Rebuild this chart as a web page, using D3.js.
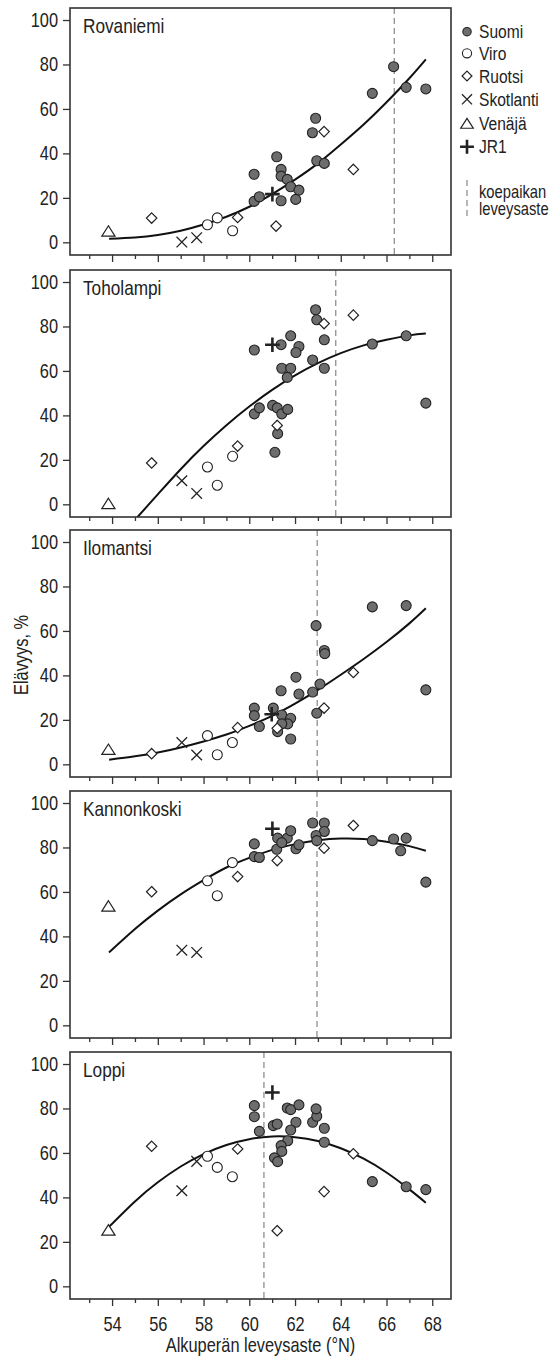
<!DOCTYPE html>
<html><head><meta charset="utf-8">
<script src="https://cdn.jsdelivr.net/npm/d3@7"></script>
<style>
html,body{margin:0;padding:0;background:#fff;}
svg{display:block;}
text{font-family:"Liberation Sans Narrow","Arial Narrow","Liberation Sans",Arial,sans-serif;fill:#222;}
</style>
</head><body>
<svg id="chart" width="556" height="1358"></svg>
<script>
// ---------------- data ----------------
const sites = ["Rovaniemi", "Toholampi", "Ilomantsi", "Kannonkoski", "Loppi"];
const siteLatitude = [66.34, 63.78, 62.97, 62.96, 60.64];
const groups = ["Suomi", "Viro", "Ruotsi", "Skotlanti", "Venäjä", "JR1"];
const yTicks = [0, 20, 40, 60, 80, 100];
const xMajorTicks = [54, 56, 58, 60, 62, 64, 66, 68];
const xMinorTicks = [53, 55, 57, 59, 61, 63, 65, 67];

// points: [group, latitude, survival %]
const rovaniemiPoints = [
  ["Suomi",60.21,30.6],["Suomi",60.21,18.4],["Suomi",60.44,20.5],["Suomi",61.20,38.5],["Suomi",61.39,32.8],
  ["Suomi",61.39,29.8],["Suomi",61.66,28.3],["Suomi",61.81,25.0],["Suomi",62.17,23.5],["Suomi",62.03,19.3],
  ["Suomi",61.39,18.7],["Suomi",62.90,55.8],["Suomi",62.76,49.3],["Suomi",62.95,36.7],["Suomi",63.28,35.5],
  ["Suomi",65.38,67.0],["Suomi",66.31,79.0],["Suomi",66.86,69.7],["Suomi",67.72,69.0],
  ["Viro",58.17,7.9],["Viro",58.60,11.0],["Viro",59.27,5.2],
  ["Ruotsi",55.73,10.9],["Ruotsi",59.49,11.2],["Ruotsi",61.17,7.3],["Ruotsi",63.27,49.8],["Ruotsi",64.55,32.8],
  ["Skotlanti",57.05,0.1],["Skotlanti",57.70,2.1],
  ["Venäjä",53.84,5.1],
  ["JR1",61.01,21.7]
];
const toholampiPoints = [
  ["Suomi",60.22,69.4],["Suomi",60.22,40.7],["Suomi",60.44,43.4],["Suomi",61.02,44.5],["Suomi",61.22,43.4],
  ["Suomi",61.42,40.7],["Suomi",61.68,42.7],["Suomi",61.24,31.8],["Suomi",61.12,23.4],["Suomi",61.39,71.8],
  ["Suomi",61.81,75.8],["Suomi",62.17,71.0],["Suomi",62.04,68.3],["Suomi",61.42,61.2],["Suomi",61.81,61.2],
  ["Suomi",61.66,57.1],["Suomi",62.77,64.9],["Suomi",63.28,61.2],["Suomi",63.28,74.0],["Suomi",62.90,87.5],
  ["Suomi",62.95,83.0],["Suomi",65.38,72.1],["Suomi",66.86,75.8],["Suomi",67.72,45.5],
  ["Viro",58.17,16.8],["Viro",58.60,8.6],["Viro",59.27,21.6],
  ["Ruotsi",55.73,18.6],["Ruotsi",59.49,26.2],["Ruotsi",61.22,35.5],["Ruotsi",63.27,81.3],["Ruotsi",64.55,85.1],
  ["Skotlanti",57.05,10.6],["Skotlanti",57.70,4.9],
  ["Venäjä",53.84,0.4],
  ["JR1",61.01,71.8]
];
const ilomantsiPoints = [
  ["Suomi",65.38,70.8],["Suomi",66.86,71.4],["Suomi",67.72,33.5],["Suomi",62.92,62.4],["Suomi",63.28,51.2],
  ["Suomi",63.30,49.8],["Suomi",62.04,39.2],["Suomi",61.39,33.1],["Suomi",62.17,31.6],["Suomi",62.77,32.5],
  ["Suomi",63.09,36.1],["Suomi",62.95,23.0],["Suomi",60.22,25.3],["Suomi",60.22,21.9],["Suomi",60.44,17.0],
  ["Suomi",61.05,25.3],["Suomi",61.42,22.2],["Suomi",61.81,20.7],["Suomi",61.68,18.2],["Suomi",61.42,18.2],
  ["Suomi",61.24,14.7],["Suomi",61.81,11.4],
  ["Viro",58.17,12.9],["Viro",58.60,4.3],["Viro",59.26,9.8],
  ["Ruotsi",55.73,4.8],["Ruotsi",59.49,16.5],["Ruotsi",61.22,16.2],["Ruotsi",63.27,25.3],["Ruotsi",64.55,41.3],
  ["Skotlanti",57.05,9.8],["Skotlanti",57.70,4.2],
  ["Venäjä",53.84,6.8],
  ["JR1",60.98,22.5]
];
const kannonkoskiPoints = [
  ["Suomi",60.22,81.6],["Suomi",60.22,75.9],["Suomi",60.44,75.5],["Suomi",61.20,79.2],["Suomi",61.24,84.2],
  ["Suomi",61.66,84.2],["Suomi",61.81,87.5],["Suomi",61.42,82.2],["Suomi",62.04,79.4],["Suomi",62.17,81.2],
  ["Suomi",62.77,91.0],["Suomi",63.28,91.0],["Suomi",63.28,87.2],["Suomi",62.92,85.4],["Suomi",62.95,83.1],
  ["Suomi",65.38,83.1],["Suomi",66.31,83.8],["Suomi",66.86,84.2],["Suomi",66.62,78.5],["Suomi",67.72,64.4],
  ["Viro",58.17,65.0],["Viro",58.60,58.3],["Viro",59.26,73.2],
  ["Ruotsi",55.73,60.1],["Ruotsi",59.49,66.9],["Ruotsi",61.22,74.1],["Ruotsi",63.27,79.7],["Ruotsi",64.55,89.9],
  ["Skotlanti",57.05,33.8],["Skotlanti",57.70,32.8],
  ["Venäjä",53.84,53.7],
  ["JR1",61.01,88.4]
];
const loppiPoints = [
  ["Suomi",60.22,81.3],["Suomi",60.22,76.3],["Suomi",60.44,69.7],["Suomi",61.05,72.3],["Suomi",61.22,73.0],
  ["Suomi",61.66,80.2],["Suomi",61.81,79.5],["Suomi",62.17,81.6],["Suomi",62.04,73.8],["Suomi",61.81,70.3],
  ["Suomi",61.68,65.5],["Suomi",61.39,63.3],["Suomi",61.42,60.7],["Suomi",61.10,57.8],["Suomi",61.24,56.1],
  ["Suomi",62.77,73.8],["Suomi",62.95,76.5],["Suomi",62.92,79.8],["Suomi",63.28,71.1],["Suomi",63.28,64.8],
  ["Suomi",65.38,47.1],["Suomi",66.86,44.8],["Suomi",67.72,43.5],
  ["Viro",58.17,58.5],["Viro",58.60,53.5],["Viro",59.26,49.3],
  ["Ruotsi",55.73,63.0],["Ruotsi",59.49,61.8],["Ruotsi",61.22,25.0],["Ruotsi",63.27,42.6],["Ruotsi",64.55,59.6],
  ["Skotlanti",57.05,43.0],["Skotlanti",57.70,56.2],
  ["Venäjä",53.84,25.4],
  ["JR1",61.01,87.2]
];

// fitted curves, points: [latitude, survival %]
const rovaniemiCurve = [[53.87,1.6],[55,2.2],[56,3.3],[57,5.2],[58,8],[59,11.5],[60,16],[61,21.7],[62,28.2],[63,35.5],[64,44],[65,53],[66,63],[67,73.8],[67.72,82.3]];
const toholampiCurve = [[54.8,-9.5],[55,-7],[56,4.5],[57,15.8],[58,26.2],[59,35.6],[60,44],[61,51.5],[62,58],[63,63.5],[64,68],[65,71.5],[66,74],[67,76],[67.72,76.8]];
const ilomantsiCurve = [[53.87,2.1],[55,3.6],[56,5.3],[57,7.6],[58,10.3],[59,13.4],[60,17.3],[61,21.8],[62,27.3],[63,33.5],[64,40.3],[65,47.4],[66,55],[67,63.4],[67.72,70.2]];
const kannonkoskiCurve = [[53.87,32.8],[55,43.3],[56,51.6],[57,58.9],[58,65.3],[59,71],[60,75.3],[61,78.9],[62,81.5],[63,83.2],[64,84],[65,83.8],[66,82.6],[67,80.6],[67.72,78.5]];
const loppiCurve = [[53.84,26.5],[55,38.2],[56,46.8],[57,53.9],[58,59.5],[59,63.6],[60,66.2],[61,67.4],[62,67.1],[63,65.4],[64,62.1],[65,57.4],[66,51.2],[67,43.6],[67.72,37.6]];

const sitePoints = [rovaniemiPoints, toholampiPoints, ilomantsiPoints, kannonkoskiPoints, loppiPoints];
const siteCurves = [rovaniemiCurve, toholampiCurve, ilomantsiCurve, kannonkoskiCurve, loppiCurve];

// ---------------- layout ----------------
const svg = d3.select("#chart");
const boxLeft = 70, boxRight = 451, boxH = 247;
const panelTops = [8, 270, 530, 791, 1052];
const ink = "#222";
const suomiFill = "#6d6d6d";
const narrow = 0.82; // condensed look of the original sans font

const x = d3.scaleLinear().domain([52.16, 68.82]).range([boxLeft, boxRight]);
const y = d3.scaleLinear().domain([-5.7, 105.4]).range([boxH, 0]);

function symbolPath(group, s) {
  const k = s || 1;
  if (group === "Ruotsi") { const r = 5.2*k; return `M0,${-r}L${r},0L0,${r}L${-r},0Z`; }
  if (group === "Skotlanti") { const r = 5.3*k; return `M${-r},${-r}L${r},${r}M${-r},${r}L${r},${-r}`; }
  if (group === "Venäjä") { const w = 6.6*k, h = 5.2*k; return `M0,${-h}L${w},${h}L${-w},${h}Z`; }
  if (group === "JR1") { const r = 7.3*k; return `M${-r},0L${r},0M0,${-r}L0,${r}`; }
  return null;
}
function drawMark(g, group, px, py, legend) {
  if (group === "Suomi" || group === "Viro") {
    g.append("circle").attr("cx", px).attr("cy", py)
      .attr("r", legend ? (group === "Suomi" ? 4.2 : 4.6) : 5.0)
      .attr("fill", group === "Suomi" ? suomiFill : "#fff")
      .attr("stroke", ink).attr("stroke-width", 1.1);
  } else {
    const p = g.append("path").attr("d", symbolPath(group, legend ? 0.95 : 1))
      .attr("transform", `translate(${px},${py})`).attr("stroke", ink);
    if (group === "Skotlanti") p.attr("fill", "none").attr("stroke-width", 1.3);
    else if (group === "JR1") p.attr("fill", "none").attr("stroke-width", 2.6);
    else p.attr("fill", "#fff").attr("stroke-width", 1.2);
  }
}

const line = d3.line().x(d => x(d[0])).y(d => y(d[1])).curve(d3.curveNatural);

sites.forEach((site, i) => {
  const g = svg.append("g").attr("transform", `translate(0,${panelTops[i]})`);
  const clipId = "clip" + i;
  g.append("clipPath").attr("id", clipId).append("rect")
    .attr("x", boxLeft).attr("y", 0).attr("width", boxRight - boxLeft).attr("height", boxH);

  g.append("line").attr("x1", x(siteLatitude[i])).attr("x2", x(siteLatitude[i]))
    .attr("y1", 0).attr("y2", boxH).attr("stroke", "#8f8f8f").attr("stroke-width", 1.3)
    .attr("stroke-dasharray", "6,4");

  g.append("path").datum(siteCurves[i]).attr("d", line).attr("fill", "none")
    .attr("stroke", "#111").attr("stroke-width", 2).attr("clip-path", `url(#${clipId})`);

  const pts = sitePoints[i];
  groups.forEach(grp => {
    pts.filter(d => d[0] === grp).forEach(d => drawMark(g, grp, x(d[1]), y(d[2]), false));
  });

  g.append("rect").attr("x", boxLeft).attr("y", 0).attr("width", boxRight - boxLeft).attr("height", boxH)
    .attr("fill", "none").attr("stroke", "#333").attr("stroke-width", 1.6);

  const ya = g.append("g").attr("transform", `translate(${boxLeft},0)`)
    .call(d3.axisLeft(y).tickValues(yTicks).tickSize(7).tickPadding(5));
  ya.select(".domain").remove();
  ya.selectAll("line").attr("stroke", "#333").attr("stroke-width", 1.3);
  ya.selectAll("text").style("font-size", "20px").attr("fill", "#222");

  const isLast = i === sites.length - 1;
  const xa = g.append("g").attr("transform", `translate(0,${boxH})`)
    .call(d3.axisBottom(x).tickValues(xMajorTicks).tickSize(7).tickPadding(11)
      .tickFormat(isLast ? d3.format("d") : () => ""));
  xa.select(".domain").remove();
  xa.selectAll("line").attr("stroke", "#333").attr("stroke-width", 1.3);
  xa.selectAll("text").style("font-size", "20px").attr("fill", "#222");
  const xm = g.append("g").attr("transform", `translate(0,${boxH})`)
    .call(d3.axisBottom(x).tickValues(xMinorTicks).tickSize(4).tickFormat(() => ""));
  xm.select(".domain").remove();
  xm.selectAll("line").attr("stroke", "#333").attr("stroke-width", 1.3);

  g.append("text").attr("x", 83).attr("y", 24.5).text(site).style("font-size", "21px");
});

svg.append("text").attr("x", (boxLeft + boxRight) / 2).attr("y", 1352)
  .attr("text-anchor", "middle").style("font-size", "20px").text("Alkuperän leveysaste (°N)");
svg.append("text").attr("transform", "translate(28,655) rotate(-90)")
  .attr("text-anchor", "middle").style("font-size", "20px").text("Elävyys, %");

const legendRows = [31.7, 53.3, 76, 99.3, 123.3, 146.7];
const lg = svg.append("g");
groups.forEach((grp, j) => {
  drawMark(lg, grp, 467, legendRows[j], true);
  lg.append("text").attr("x", 479).attr("y", legendRows[j]).attr("dy", "0.35em")
    .style("font-size", "19px").text(grp);
});
lg.append("line").attr("x1", 467).attr("x2", 467).attr("y1", 180).attr("y2", 217)
  .attr("stroke", "#8f8f8f").attr("stroke-width", 1.3).attr("stroke-dasharray", "6,4");
lg.append("text").attr("x", 479).attr("y", 191.2).attr("dy", "0.35em").style("font-size", "18px").text("koepaikan");
lg.append("text").attr("x", 479).attr("y", 208.8).attr("dy", "0.35em").style("font-size", "18px").text("leveysaste");

// condense every text horizontally (the original uses a narrow sans face)
svg.selectAll("text").each(function () {
  const t = d3.select(this);
  const xv = +(t.attr("x") || 0), yv = +(t.attr("y") || 0);
  const tr = t.attr("transform") || "";
  t.attr("x", null).attr("y", null)
    .attr("transform", `${tr} translate(${xv},${yv}) scale(${narrow},1)`);
});
</script>
</body></html>
